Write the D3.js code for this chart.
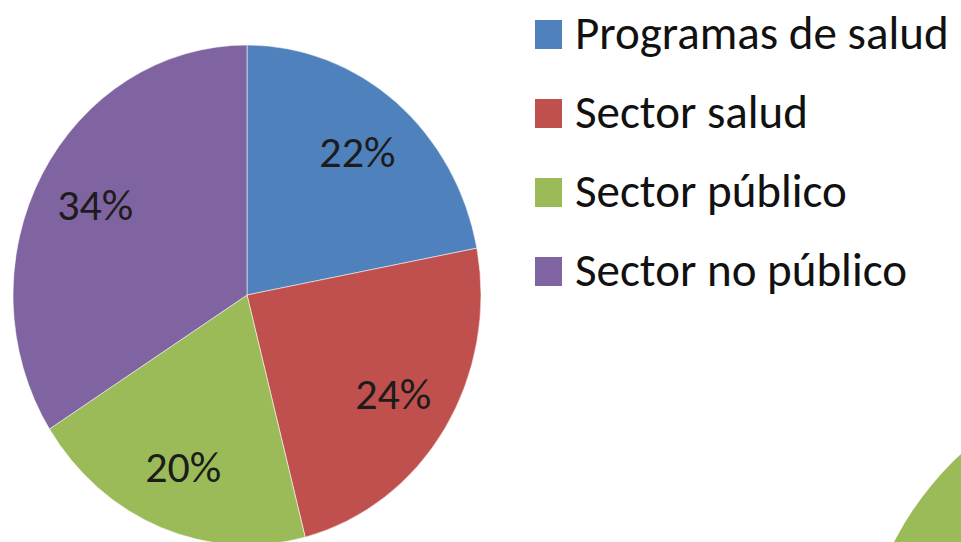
<!DOCTYPE html>
<html>
<head>
<meta charset="utf-8">
<script src="https://cdn.jsdelivr.net/npm/d3@7"></script>
<style>
  body { margin: 0; background: #fff; }
  svg { display: block; font-family: Carlito, Lato, sans-serif; }
</style>
</head>
<body>
<div id="chart"></div>
<script>
var categories = ['Programas de salud', 'Sector salud', 'Sector público', 'Sector no público'];
var values = [22, 24, 20, 34];
var labels = ['22%', '24%', '20%', '34%'];

var width = 961,
    height = 542;

var color = d3.scaleOrdinal()
  .domain(categories)
  .range(['#4f81bd', '#c0504d', '#9bbb59', '#8064a2']);

var cx = 247, cy = 295,
    rx = 234, ry = 250;

var svg = d3.select('#chart').append('svg')
  .attr('width', width)
  .attr('height', height);

// piece of the next chart peeking in at the bottom right
svg.append('circle')
  .attr('cx', 1180)
  .attr('cy', 690)
  .attr('r', 322)
  .style('fill', '#9bbb59');

var pie = d3.pie()
  .sort(null)
  .value(function(d) { return d.value; });

var arcs = pie(categories.map(function(c, i) {
  return {name: c, value: values[i], label: labels[i]};
}));

var arc = d3.arc()
  .innerRadius(0)
  .outerRadius(ry);

// the picture is a bit squeezed sideways, so the pie is an ellipse
var g = svg.append('g')
  .attr('transform', 'translate(' + cx + ' ' + cy + ') scale(' + (rx / ry) + ' 1)');

g.selectAll('path')
  .data(arcs)
  .enter()
  .append('path')
  .attr('d', arc)
  .style('fill', function(d) { return color(d.data.name); })
  .style('stroke', 'rgba(255,255,255,0.55)')
  .style('stroke-width', 1);

var labelArc = d3.arc()
  .innerRadius(ry * 0.74)
  .outerRadius(ry * 0.74);

svg.selectAll('.pct')
  .data(arcs)
  .enter()
  .append('text')
  .attr('class', 'pct')
  .attr('x', function(d) { return cx + labelArc.centroid(d)[0] * rx / ry; })
  .attr('y', function(d) { return cy + labelArc.centroid(d)[1]; })
  .attr('dy', '.33em')
  .style('text-anchor', 'middle')
  .style('font-size', '44px')
  .style('fill', '#1c1c1c')
  .text(function(d) { return d.data.label; });

var legend = svg.append('g')
  .attr('transform', 'translate(535,20)');

var item = legend.selectAll('.item')
  .data(categories)
  .enter()
  .append('g')
  .attr('class', 'item')
  .attr('transform', function(d, i) { return 'translate(0,' + (i * 79) + ')'; });

item.append('rect')
  .attr('width', 27)
  .attr('height', 29)
  .style('fill', function(d) { return color(d); });

item.append('text')
  .attr('x', 40)
  .attr('y', 29)
  .style('font-size', '47px')
  .style('fill', '#111')
  .text(function(d) { return d; });
</script>
</body>
</html>
